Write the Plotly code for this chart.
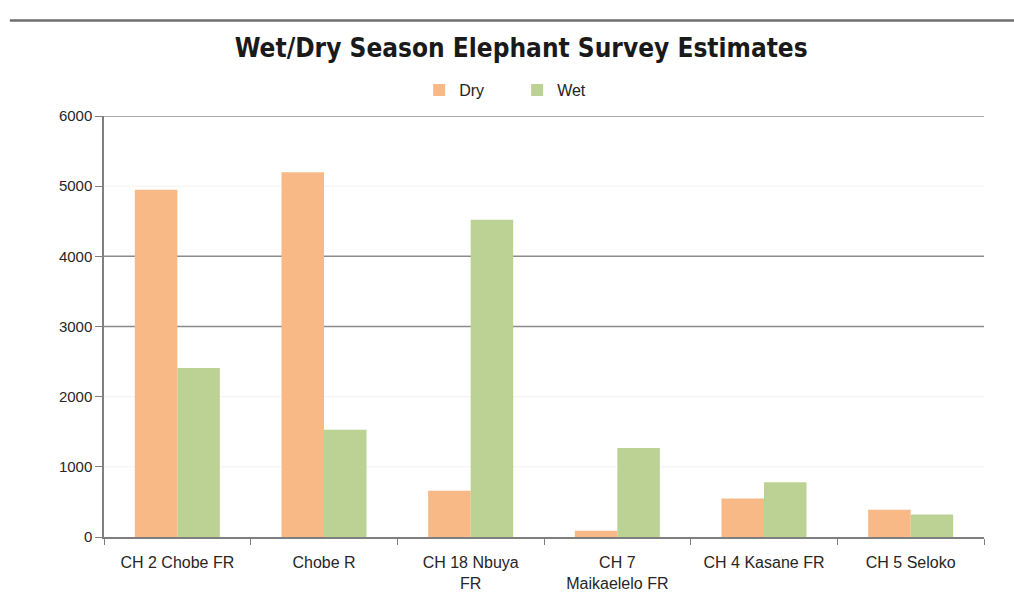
import plotly.graph_objects as go

# Survey blocks and estimated elephant numbers per season
categories = ["CH 2 Chobe FR", "Chobe R", "CH 18 Nbuya<br>FR", "CH 7<br>Maikaelelo FR",
              "CH 4 Kasane FR", "CH 5 Seloko"]
dry_counts = [4950, 5200, 660, 90, 550, 390]
wet_counts = [2410, 1530, 4520, 1270, 780, 320]

y_ticks = [0, 1000, 2000, 3000, 4000, 5000, 6000]
strong_grid = [3000, 4000, 6000]
faint_grid = [1000, 2000, 5000]

dry_color = "#F8B987"
wet_color = "#BCD294"
axis_color = "#7F7F7F"
label_font = "Liberation Sans Narrow, Arial Narrow, Liberation Sans, sans-serif"

fig = go.Figure()
fig.add_trace(go.Bar(name="Dry", x=categories, y=dry_counts, marker_color=dry_color,
                     marker_line_width=0))
fig.add_trace(go.Bar(name="Wet", x=categories, y=wet_counts, marker_color=wet_color,
                     marker_line_width=0))

# horizontal reference lines behind the bars
for level in strong_grid:
    fig.add_shape(type="line", xref="paper", yref="y", x0=0, x1=1, y0=level, y1=level,
                  line=dict(color="#8C8C8C", width=1.5), layer="below")
for level in faint_grid:
    fig.add_shape(type="line", xref="paper", yref="y", x0=0, x1=1, y0=level, y1=level,
                  line=dict(color="#F2F2F2", width=1), layer="below")

# frame line across the top of the chart area
fig.add_shape(type="line", xref="paper", yref="paper", x0=-0.107, x1=1.04, y0=1.227, y1=1.227,
              line=dict(color="#6E6E6E", width=2.5))

fig.update_layout(
    width=1014, height=613, autosize=False,
    margin=dict(l=104, r=30, t=116, b=76, autoexpand=False),
    paper_bgcolor="white", plot_bgcolor="white",
    barmode="group", bargap=0.42, bargroupgap=0,
    title=dict(text="<b>Wet/Dry Season Elephant Survey Estimates</b>",
               x=0.514, xanchor="center", xref="container",
               y=1 - 48 / 613, yanchor="middle", yref="container",
               font=dict(family="DejaVu Sans Condensed, DejaVu Sans, sans-serif",
                         size=26, color="#1A1A1A")),
    legend=dict(orientation="h", x=0.51, xanchor="center", xref="container",
                y=1 - 90 / 613, yanchor="middle", yref="container",
                font=dict(family=label_font, size=16, color="#222"),
                traceorder="normal", itemwidth=30, entrywidth=53),
    font=dict(family=label_font, color="#262626"),
)

fig.update_xaxes(showline=True, linecolor=axis_color, linewidth=1.5,
                 ticks="outside", tickson="boundaries", ticklen=6, tickcolor=axis_color,
                 tickangle=0, ticklabelstandoff=10,
                 tickfont=dict(size=16, color="#262626"), showgrid=False)
fig.update_yaxes(range=[0, 6000], tickvals=y_ticks, showline=True, linecolor=axis_color,
                 linewidth=1.5, ticks="outside", ticklen=7, tickcolor=axis_color,
                 tickfont=dict(size=15, color="#262626"), showgrid=False, zeroline=False)

fig.write_html("out.html")
